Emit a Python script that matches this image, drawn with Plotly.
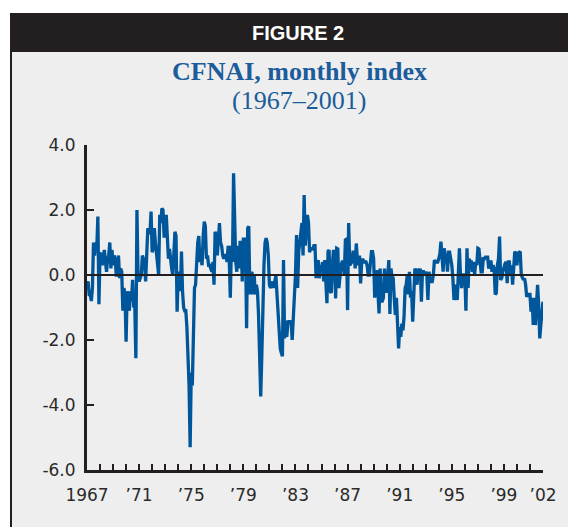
import numpy as np
import plotly.graph_objects as go

# ---- data: monthly CFNAI values (Jan 1967 onward) ----
cfnai_1967_1969 = [
    -0.3, -0.2, -0.6, -0.6, -0.8, -0.4, 1.0, 0.6, 1.0, 0.8, 1.8, -0.9,
    0.7, 0.5, 0.3, 0.6, 0.77, 0.4, 0.1, 0.5, 0.6, 1.0, 0.2, 0.77,
    0.3, 0.6, 0.5, -0.05, 0.3, 0.6, -0.1, 0.2, 0.1, -1.1, -0.4, -0.6,
]
cfnai_1970s = [
    -2.05, -0.5, -0.8, -1.1, -0.5, -0.8, -0.15, -1.0, -0.9, -2.56, 2.0, 0.0,
    -0.2, -0.1, 0.0, 0.6, 0.5, 0.4, -0.2, 0.6, 1.44, 1.3, 1.3, 1.95,
    0.7, 0.8, 1.44, 1.0, 0.67, 0.5, 0.0, 1.85, 1.6, 2.05, 2.0, 1.2,
    1.2, 1.85, 1.1, 0.5, 0.8, 0.4, 0.2, 0.0, 0.9, 1.33, 1.2, -1.13,
    0.0, 0.1, -0.5, 0.72, -0.5, -1.0, -1.1, -1.1, -1.6, -2.3, -3.4, -5.3,
    -3.0, -3.4, -1.0, -0.4, -0.3, 0.4, 1.0, 1.2, 0.4, 0.5, 0.3, 1.2,
    1.64, 1.5, 0.5, 0.6, 0.3, 0.3, 0.2, 0.1, 0.4, -0.3, 1.33, 1.2,
    0.6, 1.3, 1.6, 1.0, 0.9, 0.6, 0.5, 0.6, 0.6, 0.4, 0.9, 0.5,
    -0.7, 0.9, 0.4, 3.13, 1.33, 0.4, 0.1, 0.9, 0.2, 1.0, 1.0, -0.2,
    1.1, 1.1, 0.9, -1.64, 1.44, 1.5, -0.6, 0.0, 0.1, -0.6, 0.0, -0.6,
]
cfnai_1980s = [
    -0.3, -0.5, -1.23, -2.56, -3.74, -2.5, -0.9, 0.3, 1.0, 1.13, 1.0, 0.6,
    -0.3, -0.4, -0.3, -0.2, -0.4, -0.1, 0.0, -0.6, -1.23, -1.95, -2.26, -2.4,
    -2.5, 0.46, -1.95, -1.4, -1.9, -1.5, -1.4, -1.5, -1.4, -2.0, -1.3, -0.7,
    0.0, 1.23, -0.4, 0.72, 1.03, 1.3, 1.6, 0.6, 2.46, 0.9, 1.5, 1.85,
    1.6, 0.7, 0.82, 0.8, 0.8, 0.9, 0.9, -0.1, 0.4, 0.45, -0.1, 0.3,
    0.2, 0.4, -0.2, 0.46, -0.3, -0.87, 0.72, 0.77, -0.5, -0.55, 0.3, 0.77,
    0.5, -0.72, 0.82, 0.8, -0.4, 0.0, 0.3, 0.4, 0.4, 0.0, 1.08, 1.1,
    -1.08, 1.6, 0.3, 0.35, 0.4, 0.7, 0.7, 0.2, 0.97, 0.5, 0.3, 0.6,
    -0.26, 0.4, 0.5, 0.4, 0.4, 0.4, 0.3, 0.0, 0.0, 0.3, 0.72, 0.72,
    0.5, -0.7, 0.1, 0.1, -0.92, -1.18, 0.2, -0.8, -0.8, -0.7, 0.2, -0.5,
]
cfnai_1990s = [
    -0.5, 0.0, 0.46, -1.2, 0.2, -0.1, -0.1, -0.72, -1.23, -0.7, -1.54, -2.26,
    -1.6, -1.9, -1.5, -1.7, -1.3, -0.4, -0.3, 0.0, -0.6, 0.1, -0.7, -0.5,
    -1.44, -0.4, 0.2, 0.1, -0.3, 0.2, 0.0, 0.2, -0.82, 0.1, 0.1, 0.0,
    0.1, 0.0, -0.77, 0.1, -0.2, -0.2, -0.2, 0.0, 0.46, 0.4, 0.4, 0.4,
    0.5, 0.65, 1.03, 0.5, 0.1, 0.82, 0.6, 0.6, 0.1, 0.7, 0.7, 0.5,
    0.3, -0.1, -0.77, -0.3, -0.4, -0.77, -0.1, 0.82, 0.0, -0.4, 0.0, 0.0,
    0.0, -1.1, 0.82, -0.4, 0.5, 0.4, 0.4, 0.1, 0.4, 0.0, 0.4, 0.3,
    0.82, 0.8, 0.3, 0.1, 0.1, 0.5, 0.5, 0.55, 0.55, 0.55, 0.2, 0.4,
    0.45, 0.1, 0.3, 0.2, -0.6, -0.55, 0.3, 0.5, 1.18, -0.15, -0.1, 0.1,
    0.3, 0.35, 0.4, -0.25, 0.4, 0.4, 0.0, 0.3, -0.3, 0.5, 0.72, 0.67,
]
cfnai_2000s = [
    0.3, 0.67, 0.7, 0.72, 0.0, -0.1, -0.15, -0.1, -0.3, -0.67, -0.6, -0.6,
    -0.6, -1.13, -0.7, -1.54, -0.7, -1.54, -0.6, -0.3, -0.9, -1.95, -1.54, -1.13,
    -0.82,
]

start_year = 1967
end_year = 2002
x_tick_years = list(range(1967, 2003))
x_label_years = [1967, 1971, 1975, 1979, 1983, 1987, 1991, 1995, 1999, 2002]
x_label_text = ["1967", "\u201971", "\u201975", "\u201979", "\u201983", "\u201987",
                "\u201991", "\u201995", "\u201999", "\u201902"]
y_tick_vals = [4, 2, 0, -2, -4, -6]
y_tick_text = ["4.0", "2.0", "0.0", "-2.0", "-4.0", "-6.0"]

values = cfnai_1967_1969 + cfnai_1970s + cfnai_1980s + cfnai_1990s + cfnai_2000s
months = np.arange(len(values))
xpos = start_year + months / 12.0

# ---- layout geometry (reference pixels; page body adds an 8px offset) ----
W, H = 576, 527
OFF = 8
L, R, T, B = 87, 543, 145, 470
pw, ph = R - L, B - T


def px(xp):
    return (xp - L) / pw


def py(yp):
    return (B - yp) / ph


INK = "#231F20"
BLUE_LINE = "#00569A"
BLUE_TEXT = "#1B5C9B"
PANEL = "#EEEEEE"

fig = go.Figure()
fig.add_trace(go.Scatter(x=xpos, y=values, mode="lines",
                         line=dict(color=BLUE_LINE, width=3.3),
                         hoverinfo="skip", showlegend=False))

tick_text_x = [x_label_text[x_label_years.index(y)] if y in x_label_years else ""
               for y in x_tick_years]

shapes = [
    # gray panel
    dict(type="rect", xref="paper", yref="paper", x0=px(11), x1=px(W + 20),
         y0=py(52), y1=py(H + 20), fillcolor=PANEL, line=dict(width=0), layer="below"),
    # header bar
    dict(type="rect", xref="paper", yref="paper", x0=px(10), x1=px(W + 20),
         y0=py(52), y1=py(13), fillcolor=INK, line=dict(width=0), layer="below"),
    # left panel border
    dict(type="line", xref="paper", yref="paper", x0=px(11), x1=px(11),
         y0=py(52), y1=py(H + 20), line=dict(color=INK, width=2), layer="below"),
    # zero line
    dict(type="line", xref="x", yref="y", x0=start_year, x1=end_year, y0=0, y1=0,
         line=dict(color=INK, width=2), layer="above"),
]

annotations = [
    dict(text="<b>FIGURE 2</b>", xref="paper", yref="paper", x=px(298), y=py(33),
         xanchor="center", yanchor="middle", showarrow=False,
         font=dict(family="Liberation Sans, Arial, sans-serif", size=20, color="white")),
    dict(text="<b>CFNAI, monthly index</b>", xref="paper", yref="paper", x=px(299), y=py(72),
         xanchor="center", yanchor="middle", showarrow=False,
         font=dict(family="Liberation Serif, Times New Roman, serif", size=26, color=BLUE_TEXT)),
    dict(text="(1967\u20132001)", xref="paper", yref="paper", x=px(299), y=py(100),
         xanchor="center", yanchor="middle", showarrow=False,
         font=dict(family="Liberation Serif, Times New Roman, serif", size=26, color=BLUE_TEXT)),
]

fig.update_layout(
    width=W, height=H,
    margin=dict(l=L - OFF, r=W - R + OFF, t=T - OFF, b=H - B + OFF, pad=0),
    paper_bgcolor="white",
    plot_bgcolor=PANEL,
    shapes=shapes,
    annotations=annotations,
    showlegend=False,
    xaxis=dict(range=[start_year, end_year], tickmode="array",
               tickvals=x_tick_years, ticktext=tick_text_x,
               ticks="inside", ticklen=6, tickwidth=2, tickcolor=INK,
               showline=True, linewidth=3, linecolor=INK,
               showgrid=False, zeroline=False, ticklabelstandoff=8,
               tickfont=dict(family="DejaVu Sans, sans-serif", size=17, color="#2A2A2A")),
    yaxis=dict(range=[-6, 4], tickmode="array",
               tickvals=y_tick_vals, ticktext=y_tick_text,
               ticks="inside", ticklen=7, tickwidth=2, tickcolor=INK,
               showline=True, linewidth=3, linecolor=INK,
               showgrid=False, zeroline=False, ticklabelstandoff=5,
               tickfont=dict(family="DejaVu Sans, sans-serif", size=17, color="#2A2A2A")),
)

fig.write_html("out.html")
